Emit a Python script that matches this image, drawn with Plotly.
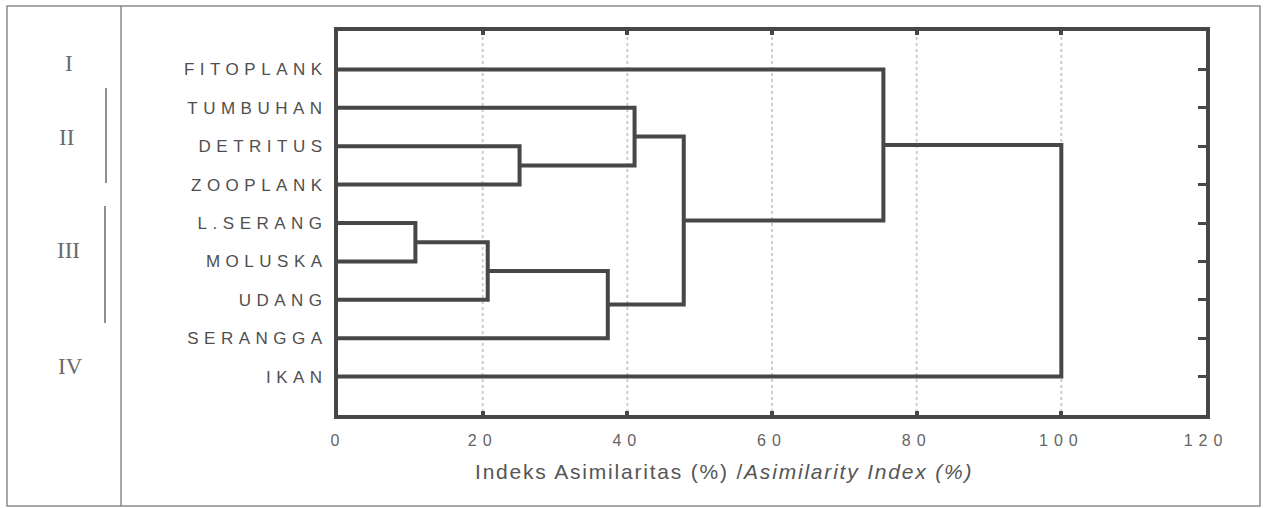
import plotly.graph_objects as go

# ---- data -------------------------------------------------------------
leaves = ["FITOPLANK", "TUMBUHAN", "DETRITUS", "ZOOPLANK", "L.SERANG",
          "MOLUSKA", "UDANG", "SERANGGA", "IKAN"]
# merges: (left member, right member, asimilarity height)
merge_left = ["L.SERANG", "c1", "c2", "DETRITUS", "TUMBUHAN", "c5", "FITOPLANK", "c7"]
merge_right = ["MOLUSKA", "UDANG", "SERANGGA", "ZOOPLANK", "c4", "c3", "c6", "IKAN"]
merge_height = [10.7, 20.7, 37.3, 25.1, 41.0, 47.8, 75.4, 100.0]
merge_names = ["c1", "c2", "c3", "c4", "c5", "c6", "c7", "c8"]

x_ticks = [0, 20, 40, 60, 80, 100, 120]
grid_vals = [20, 40, 60, 80, 100]
groups = ["I", "II", "III", "IV"]
axis_title = "Indeks Asimilaritas (%) /<i>Asimilarity Index (%)</i>"

# ---- dendrogram geometry from the linkage -------------------------------
pos = {name: (0.0, i + 1) for i, name in enumerate(leaves)}  # (height, row)
xs, ys = [], []
for l, r, h, n in zip(merge_left, merge_right, merge_height, merge_names):
    hl, yl = pos[l]
    hr, yr = pos[r]
    xs += [hl, h, h, hr, None]
    ys += [yl, yl, yr, yr, None]
    pos[n] = (h, (yl + yr) / 2)

LINE = "#474747"
TXT = "#4f4f4f"

fig = go.Figure()
# dotted grid lines
for g in grid_vals:
    fig.add_trace(go.Scatter(x=[g, g], y=[0, 10], mode="lines",
                             line=dict(color="#cccccc", width=2, dash="dot"),
                             hoverinfo="skip", showlegend=False))
fig.add_trace(go.Scatter(x=xs, y=ys, mode="lines",
                         line=dict(color=LINE, width=4),
                         hoverinfo="skip", showlegend=False))

ML, MR, MT, MB = 338, 59, 31, 93
fig.update_layout(
    width=1265, height=508,
    margin=dict(l=ML, r=MR, t=MT, b=MB),
    paper_bgcolor="white", plot_bgcolor="white",
    showlegend=False,
    font=dict(family="Liberation Sans, Arial, sans-serif", color=TXT),
)
fig.update_xaxes(
    range=[0, 120], tickvals=x_ticks,
    ticktext=[f'<span style="letter-spacing:6px">{v}</span>' for v in x_ticks],
    tickfont=dict(size=16, color="#646464"),
    showgrid=False, zeroline=False,
    showline=True, linewidth=4, linecolor=LINE, mirror="ticks",
    ticks="inside", ticklen=4, tickwidth=4, tickcolor=LINE,
    ticklabelstandoff=8,
)
fig.update_yaxes(
    range=[10, 0], tickvals=list(range(1, len(leaves) + 1)),
    ticktext=[f'<span style="letter-spacing:5.5px">{n}</span>' for n in leaves],
    tickfont=dict(size=17, color=TXT),
    showgrid=False, zeroline=False,
    showline=True, linewidth=4, linecolor=LINE, mirror="ticks",
    ticks="inside", ticklen=8, tickwidth=3, tickcolor=LINE,
    ticklabelstandoff=3,
)

def px(x):  # paper x from page pixel
    return (x - ML) / (1265 - ML - MR)
def py(y):  # paper y from page pixel
    return 1 - (y - MT) / (508 - MT - MB)

fig.add_shape(type="rect", xref="paper", yref="paper",
              x0=px(7), x1=px(1260), y0=py(506), y1=py(6),
              line=dict(color="#8a8a8a", width=1.5))
fig.add_shape(type="line", xref="paper", yref="paper",
              x0=px(121), x1=px(121), y0=py(506), y1=py(6),
              line=dict(color="#8a8a8a", width=1.5))
fig.add_shape(type="line", xref="paper", yref="paper",
              x0=px(106), x1=px(106), y0=py(88), y1=py(183),
              line=dict(color="#6a6a6a", width=1.5))
fig.add_shape(type="line", xref="paper", yref="paper",
              x0=px(105), x1=px(105), y0=py(206), y1=py(323),
              line=dict(color="#6a6a6a", width=1.5))

group_x = [69, 66, 68, 70]
group_y = [63, 137, 250, 366]
for g, gx, gy in zip(groups, group_x, group_y):
    fig.add_annotation(text=g, xref="paper", yref="paper",
                       x=px(gx), y=py(gy), showarrow=False,
                       xanchor="center", yanchor="middle",
                       font=dict(family="Liberation Serif, Times New Roman, serif",
                                 size=23, color="#6a6a6a"))

fig.add_annotation(text=f'<span style="letter-spacing:1.8px">{axis_title}</span>',
                   xref="paper", yref="paper",
                   x=px(724), y=py(471), showarrow=False,
                   xanchor="center", yanchor="middle",
                   font=dict(size=21, color="#555555"))

fig.write_html("out.html", config={"displayModeBar": False},
               post_script="document.body.style.margin='0px';")
